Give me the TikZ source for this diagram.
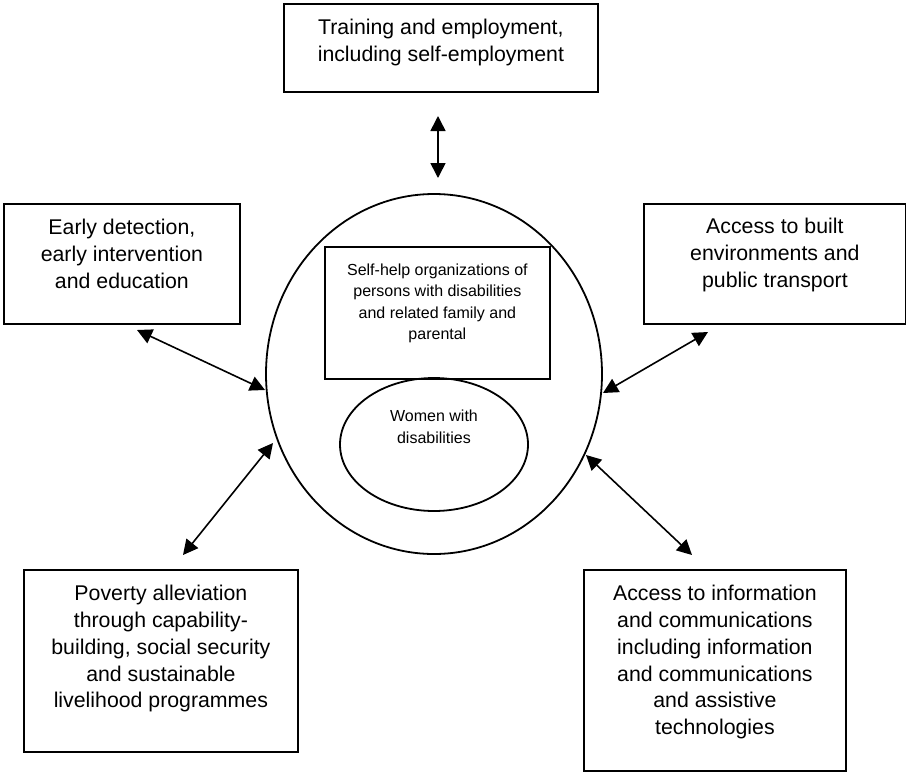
\documentclass[tikz,border=0pt]{standalone}
\usepackage{fontspec}
\setmainfont{Liberation Sans}
\usetikzlibrary{arrows.meta,shapes.geometric}
\newcommand\boxtext[4]{\parbox[t][#2][t]{#1}{\centering\rule{0pt}{#3}#4}}
\begin{document}
\begin{tikzpicture}[x=1pt,y=-1pt,
  boxs/.style={draw, line width=1.8pt, inner sep=0pt, anchor=north west},
  bigtxt/.style={font=\fontsize{21.3pt}{26.7pt}\selectfont},
  smalltxt/.style={font=\fontsize{16pt}{21.4pt}\selectfont},
  ring/.style={draw, ellipse, line width=1.8pt, inner sep=0pt},
  biarrow/.style={line width=1.6pt, {Triangle[length=15pt,width=15pt]}-{Triangle[length=15pt,width=15pt]}}]
\useasboundingbox (0,0) rectangle (906,772);
% outer circle
\node[ring, minimum width=336pt, minimum height=360pt] (hub) at (434,374) {};
% boxes
\node[boxs, bigtxt] (train) at (283,3) {\boxtext{314pt}{88pt}{31pt}{Training and employment,\\including self-employment}};
\node[boxs, bigtxt] (early) at (3,203) {\boxtext{236pt}{120pt}{31pt}{Early detection,\\early intervention\\and education}};
\node[boxs, bigtxt] (built) at (643,203) {\boxtext{262pt}{120pt}{30pt}{Access to built\\environments and\\public transport}};
\node[boxs, bigtxt] (poverty) at (23,569) {\boxtext{274pt}{182pt}{31pt}{Poverty alleviation\\through capability-\\building, social security\\and sustainable\\livelihood programmes}};
\node[boxs, bigtxt] (info) at (583,569) {\boxtext{262pt}{201pt}{31pt}{Access to information\\and communications\\including information\\and communications\\and assistive\\technologies}};
% inner elements
\node[boxs, smalltxt] (selfhelp) at (324,246) {\boxtext{225pt}{132pt}{28.6pt}{Self-help organizations of\\persons with disabilities\\and related family and\\parental}};
\node[ring, smalltxt, align=center, minimum width=188pt, minimum height=133pt] (women) at (434,444.5) {Women with\\disabilities\rule[-36pt]{0pt}{0pt}};
% connector end points
\coordinate (a1) at (438,116); \coordinate (a2) at (438,178);
\coordinate (b1) at (137,330); \coordinate (b2) at (265,390);
\coordinate (c1) at (708,332); \coordinate (c2) at (603,393);
\coordinate (d1) at (273,443); \coordinate (d2) at (183,555);
\coordinate (e1) at (586,455); \coordinate (e2) at (692,555);
\draw[biarrow] (a1) -- (a2);
\draw[biarrow] (b1) -- (b2);
\draw[biarrow] (c1) -- (c2);
\draw[biarrow] (d1) -- (d2);
\draw[biarrow] (e1) -- (e2);
\end{tikzpicture}
\end{document}
